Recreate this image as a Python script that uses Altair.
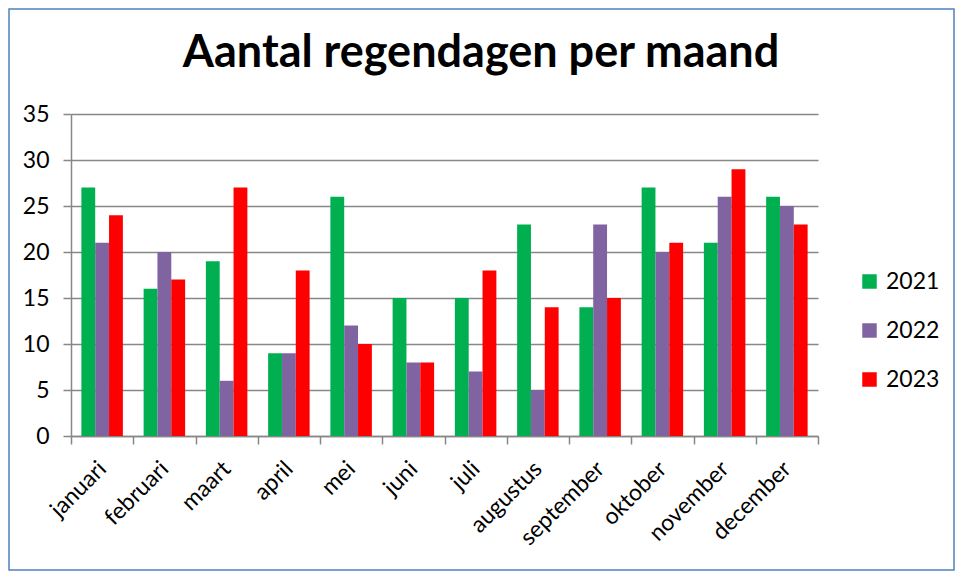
import altair as alt
import pandas as pd

months = ["januari", "februari", "maart", "april", "mei", "juni", "juli",
          "augustus", "september", "oktober", "november", "december"]
years = ["2021", "2022", "2023"]
v2021 = [27, 16, 19, 9, 26, 15, 15, 23, 14, 27, 21, 26]
v2022 = [21, 20, 6, 9, 12, 8, 7, 5, 23, 20, 26, 25]
v2023 = [24, 17, 27, 18, 10, 8, 18, 14, 15, 21, 29, 23]
colors = ["#00B050", "#8064A2", "#FF0000"]
title_text = "Aantal regendagen per maand"

rows = []
for y, vals in zip(years, [v2021, v2022, v2023]):
    for m, v in zip(months, vals):
        rows.append({"maand": m, "jaar": y, "dagen": v})
df = pd.DataFrame(rows)

FONT = "Lato"
FS = 23
W, H = 747, 322
PL, PT, PR, PB = 63, 106, 137, 135

bars = alt.Chart(df).mark_bar().encode(
    x=alt.X("maand:N", sort=months, title=None,
            scale=alt.Scale(paddingInner=0, paddingOuter=0),
            axis=alt.Axis(labelAngle=-45, labelAlign="right", labelBaseline="middle",
                          labelFontSize=FS, labelFont=FONT, labelColor="#000000",
                          labelPadding=21, tickBand="extent", tickSize=8,
                          tickColor="#878787", tickWidth=1.5,
                          domainColor="#878787", domainWidth=1.5, grid=False)),
    xOffset=alt.XOffset("jaar:N", sort=years,
                        scale=alt.Scale(paddingInner=0, paddingOuter=0.75)),
    y=alt.Y("dagen:Q", title=None,
            scale=alt.Scale(domain=[0, 35], nice=False),
            axis=alt.Axis(values=[0, 5, 10, 15, 20, 25, 30, 35], labelFontSize=FS,
                          labelFont=FONT, labelColor="#000000", labelPadding=14,
                          tickSize=8, tickColor="#878787", tickWidth=1.5,
                          domainColor="#878787", domainWidth=1.5,
                          grid=True, gridColor="#878787", gridWidth=1.5)),
    color=alt.Color("jaar:N", sort=years,
                    scale=alt.Scale(domain=years, range=colors),
                    legend=alt.Legend(title=None, orient="none", legendX=787, legendY=156,
                                      symbolType="square", symbolSize=210,
                                      symbolStrokeWidth=0, labelFontSize=FS,
                                      labelFont=FONT, labelColor="#000000",
                                      rowPadding=25, labelOffset=5)),
)

frame = alt.Chart(pd.DataFrame({"a": [0]})).mark_rect(
    fill=None, stroke="#4F81BD", strokeWidth=1.5
).encode(
    x=alt.value(-PL + 1), x2=alt.value(W + PR - 1),
    y=alt.value(-PT + 1), y2=alt.value(H + PB - 1)
)

title = alt.Chart(pd.DataFrame({"t": [title_text]})).mark_text(
    font=FONT, fontSize=45, fontWeight="bold", color="#000000",
    align="center", baseline="alphabetic"
).encode(
    x=alt.value(410), y=alt.value(-47), text="t:N"
)

chart = alt.layer(bars, frame, title).properties(
    width=W, height=H,
    padding={"left": PL, "top": PT, "right": PR, "bottom": PB},
    autosize=alt.AutoSizeParams(type="none"),
).configure_view(stroke=None)

chart.save("out.html", embed_options={"renderer": "svg", "actions": False})
